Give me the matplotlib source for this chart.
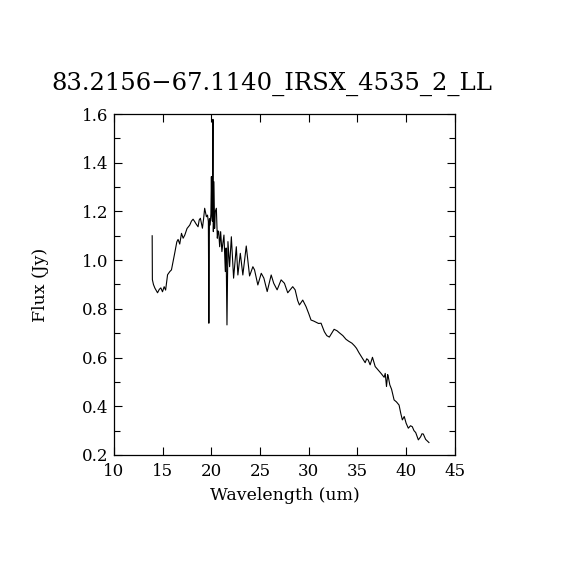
import matplotlib
matplotlib.use('Agg')
import matplotlib.pyplot as plt
from matplotlib.ticker import MultipleLocator

# spectrum
wave = [13.92, 13.94, 14.05, 14.2, 14.47, 14.65, 14.81, 14.98, 15.15, 15.3,
        15.5, 15.73, 15.9, 16.05, 16.24, 16.45, 16.58, 16.75, 16.93, 17.1,
        17.27, 17.5, 17.78, 17.95, 18.12, 18.29, 18.39, 18.63, 18.75, 18.87,
        19.08, 19.2, 19.31, 19.49, 19.6, 19.69, 19.74, 19.8, 19.87, 19.95,
        20.0, 20.05, 20.1, 20.16, 20.2, 20.26, 20.33, 20.4, 20.51, 20.61,
        20.68, 20.75, 20.85, 20.95, 21.08, 21.18, 21.29, 21.43, 21.51, 21.6,
        21.7, 21.87, 22.05, 22.28, 22.56, 22.72, 22.97, 23.23, 23.58, 23.92,
        24.26, 24.43, 24.77, 25.12, 25.39, 25.73, 26.14, 26.4, 26.75, 27.16,
        27.5, 27.84, 28.35, 28.6, 28.86, 29.04, 29.38, 29.72, 30.0, 30.23,
        30.5, 30.75, 31.0, 31.26, 31.6, 31.85, 32.11, 32.35, 32.6, 32.9,
        33.13, 33.5, 33.82, 34.1, 34.43, 34.7, 34.9, 35.15, 35.35, 35.6,
        35.79, 35.95, 36.1, 36.3, 36.54, 36.82, 37.1, 37.4, 37.74, 37.85,
        37.98, 38.1, 38.15, 38.32, 38.5, 38.76, 39.0, 39.27, 39.45, 39.61,
        39.8, 40.0, 40.22, 40.45, 40.63, 40.8, 40.98, 41.25, 41.49, 41.62,
        41.76, 42.0, 42.34]
flux = [1.10, 0.92, 0.90, 0.885, 0.866, 0.88, 0.886, 0.87, 0.891, 0.877,
        0.94, 0.953, 0.96, 0.99, 1.03, 1.075, 1.085, 1.066, 1.11, 1.09,
        1.103, 1.13, 1.144, 1.16, 1.168, 1.158, 1.151, 1.137, 1.165, 1.172,
        1.131, 1.17, 1.213, 1.178, 1.185, 1.158, 0.741, 1.17, 1.144, 1.19,
        1.343, 1.19, 1.16, 1.578, 1.117, 1.322, 1.13, 1.20, 1.213, 1.09,
        1.12, 1.117, 1.055, 1.117, 1.035, 1.07, 1.103, 0.953, 1.05, 0.734,
        1.076, 0.973, 1.096, 0.926, 1.055, 0.939, 1.028, 0.939, 1.058, 0.935,
        0.973, 0.96, 0.898, 0.946, 0.926, 0.871, 0.939, 0.905, 0.878, 0.919,
        0.905, 0.866, 0.891, 0.878, 0.834, 0.816, 0.836, 0.809, 0.78, 0.754,
        0.75, 0.745, 0.74, 0.741, 0.706, 0.69, 0.684, 0.70, 0.716, 0.71,
        0.702, 0.69, 0.675, 0.667, 0.659, 0.648, 0.638, 0.62, 0.607, 0.59,
        0.579, 0.595, 0.59, 0.57, 0.601, 0.563, 0.55, 0.536, 0.519, 0.535,
        0.481, 0.53, 0.524, 0.488, 0.47, 0.426, 0.418, 0.405, 0.37, 0.344,
        0.358, 0.33, 0.31, 0.32, 0.316, 0.30, 0.292, 0.262, 0.275, 0.287,
        0.286, 0.264, 0.251]

title = '83.2156\u221267.1140_IRSX_4535_2_LL'

plt.rcParams['font.family'] = ['DejaVu Serif']
fig = plt.figure(figsize=(5.7, 5.7), dpi=100)
ax = fig.add_axes([0.2, 0.2018, 0.598, 0.5982])
ax.plot(wave, flux, c='black', lw=0.8)
ax.set_xlim(10, 45)
ax.set_ylim(0.2, 1.6)
ax.xaxis.set_major_locator(MultipleLocator(5))
ax.yaxis.set_major_locator(MultipleLocator(0.2))
ax.yaxis.set_minor_locator(MultipleLocator(0.1))
ax.yaxis.set_major_formatter(lambda v, p: f'{v:.1f}')
ax.tick_params(which='both', direction='in', top=True, right=True,
               labelsize=12, width=0.8)
ax.tick_params(which='major', length=6)
ax.tick_params(which='minor', length=4)
ax.tick_params(axis='x', pad=6)
ax.tick_params(axis='y', pad=4)
for s in ax.spines.values():
    s.set_linewidth(0.9)
ax.set_xlabel('Wavelength (um)', fontsize=12.5, labelpad=5)
ax.set_ylabel('Flux (Jy)', fontsize=12.5, labelpad=24)
fig.text(0.477, 0.853, title, ha='center', va='center', fontsize=17.5)
fig.savefig('out.png', dpi=100)
